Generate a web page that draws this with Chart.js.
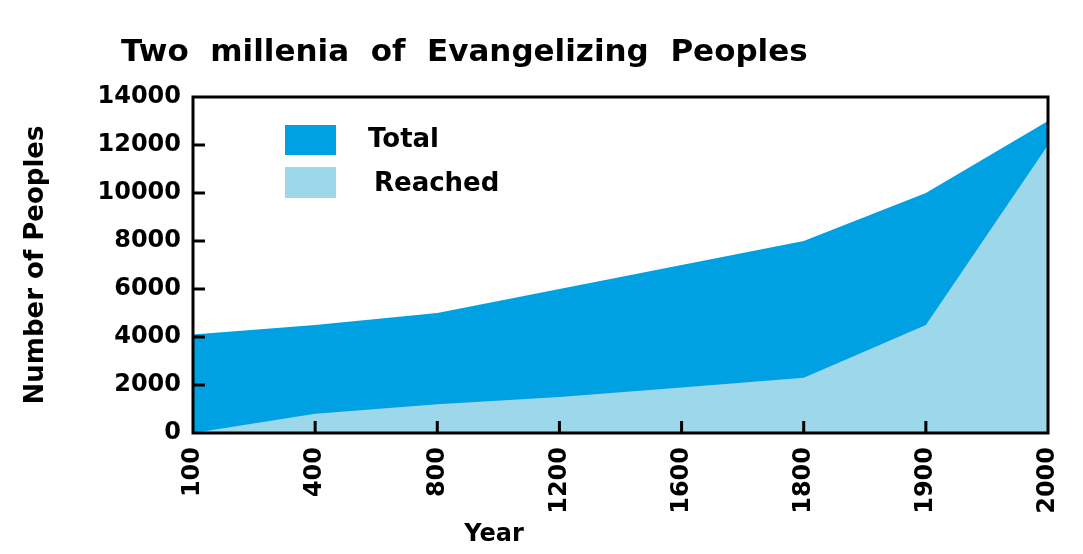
<!DOCTYPE html>
<html>
<head>
<meta charset="utf-8">
<script src="https://cdn.jsdelivr.net/npm/chart.js@4.4.0/dist/chart.umd.min.js"></script>
<style>
  html, body { margin: 0; padding: 0; background: #fff; }
</style>
</head>
<body>
<canvas id="myChart" width="1083" height="554"></canvas>
<script>
const years = ['100', '400', '800', '1200', '1600', '1800', '1900', '2000'];
const totalPeoples = [4100, 4500, 5000, 6000, 7000, 8000, 10000, 13000];
const reachedPeoples = [0, 800, 1200, 1500, 1900, 2300, 4500, 12000];
const yMax = 14000;
const yStep = 2000;

const FONT = 'DejaVu Sans';
const totalColor = '#00a1e2';
const reachedColor = '#9dd7ea';

// frame, inward tick marks, legend and titles drawn on top
const framePlugin = {
    id: 'frame',
    afterDatasetsDraw(chart) {
        const { ctx, chartArea: a, scales: { x, y } } = chart;
        ctx.save();
        ctx.strokeStyle = '#000';
        ctx.lineWidth = 3;

        ctx.beginPath();
        y.ticks.forEach(t => {
            if (t.value > 0 && t.value < yMax) {
                const py = y.getPixelForValue(t.value);
                ctx.moveTo(a.left, py);
                ctx.lineTo(a.left + 12, py);
            }
        });
        years.forEach((yr, i) => {
            if (i > 0 && i < years.length - 1) {
                const px = x.getPixelForValue(i);
                ctx.moveTo(px, a.bottom);
                ctx.lineTo(px, a.bottom - 12);
            }
        });
        ctx.stroke();
        ctx.strokeRect(a.left, a.top, a.right - a.left, a.bottom - a.top);

        // legend
        const ds = chart.data.datasets;
        ctx.font = 'bold 26px ' + FONT;
        ctx.textBaseline = 'middle';
        ctx.fillStyle = ds[0].backgroundColor;
        ctx.fillRect(a.left + 92, a.top + 28, 51, 30);
        ctx.fillStyle = ds[1].backgroundColor;
        ctx.fillRect(a.left + 92, a.top + 70, 51, 31);
        ctx.fillStyle = '#000';
        ctx.fillText(ds[0].label, a.left + 175, a.top + 43);
        ctx.fillText(ds[1].label, a.left + 181, a.top + 87);

        // titles
        ctx.textBaseline = 'alphabetic';
        ctx.font = 'bold 31px ' + FONT;
        ctx.fillText('Two  millenia  of  Evangelizing  Peoples', 121, 61);
        ctx.font = 'bold 24px ' + FONT;
        ctx.textAlign = 'center';
        ctx.fillText('Year', 494, 541);
        ctx.restore();
    }
};

const ctx = document.getElementById('myChart').getContext('2d');
const chart = new Chart(ctx, {
    type: 'line',
    data: {
        labels: years,
        datasets: [{
            label: 'Total',
            data: totalPeoples,
            backgroundColor: totalColor,
            borderColor: totalColor,
            fill: 'origin',
            order: 2
        }, {
            label: 'Reached',
            data: reachedPeoples,
            backgroundColor: reachedColor,
            borderColor: reachedColor,
            fill: 'origin',
            order: 1
        }]
    },
    options: {
        responsive: false,
        animation: false,
        devicePixelRatio: 1,
        layout: {
            padding: { top: 97, right: 35, left: 0, bottom: 0 }
        },
        elements: {
            line: { tension: 0, borderWidth: 0 },
            point: { radius: 0 }
        },
        plugins: {
            legend: { display: false },
            title: { display: false },
            tooltip: { enabled: false }
        },
        scales: {
            x: {
                offset: false,
                grid: { display: false, drawTicks: false },
                border: { display: false },
                ticks: {
                    color: '#000',
                    font: { family: FONT, size: 24, weight: 'bold' },
                    minRotation: 90,
                    maxRotation: 90,
                    padding: 14,
                    autoSkip: false
                },
                afterFit(scale) {
                    scale.height = 121;
                    scale.paddingLeft = 0;
                    scale.paddingRight = 0;
                }
            },
            y: {
                min: 0,
                max: yMax,
                grid: { display: false, drawTicks: false },
                border: { display: false },
                ticks: {
                    stepSize: yStep,
                    color: '#000',
                    font: { family: FONT, size: 24, weight: 'bold' },
                    padding: 12,
                    callback: v => String(v)
                },
                title: {
                    display: true,
                    text: 'Number of Peoples',
                    color: '#000',
                    font: { family: FONT, size: 26, weight: 'bold' },
                    padding: { top: 21, bottom: 0 }
                },
                afterFit(scale) { scale.width = 193; }
            }
        }
    },
    plugins: [framePlugin]
});
</script>
</body>
</html>
